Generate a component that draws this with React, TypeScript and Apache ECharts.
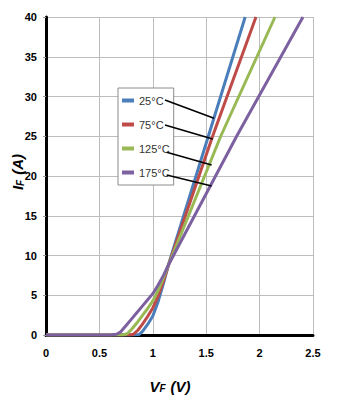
import React, { useEffect, useRef } from "react";
import * as echarts from "echarts";

const seriesNames = ["25°C", "75°C", "125°C", "175°C"];
const colors = ["#4A7EBB", "#BE4B48", "#98B954", "#7D60A0"];

const curve25: [number, number][] = [
  [0, 0], [0.8, 0], [0.87, 0.05], [0.9, 0.4], [0.95, 1.3], [1.0, 2.4], [1.05, 4.2],
  [1.1, 6.5], [1.15, 9.0], [1.52, 25], [1.865, 40],
];
const curve75: [number, number][] = [
  [0, 0], [0.78, 0], [0.82, 0.1], [0.86, 0.6], [0.9, 1.3], [0.95, 2.3], [1.0, 3.4],
  [1.05, 4.9], [1.1, 6.8], [1.15, 8.9], [1.56, 25], [1.966, 40],
];
const curve125: [number, number][] = [
  [0, 0], [0.72, 0], [0.76, 0.15], [0.8, 0.7], [0.85, 1.5], [0.9, 2.4], [0.95, 3.3],
  [1.0, 4.3], [1.05, 5.6], [1.1, 7.2], [1.15, 8.9], [1.636, 25], [2.144, 40],
];
const curve175: [number, number][] = [
  [0, 0], [0.6, 0], [0.66, 0.1], [0.7, 0.4], [0.75, 1.2], [0.8, 2.0], [0.85, 2.8],
  [0.9, 3.6], [0.95, 4.4], [1.0, 5.2], [1.05, 6.3], [1.1, 7.5], [1.15, 8.9],
  [1.785, 25], [2.406, 40],
];
const curves = [curve25, curve75, curve125, curve175];

// leader lines from legend labels to curves (data coordinates)
const leaders: [number, number, number, number][] = [
  [1.114, 29.56, 1.573, 27.26],
  [1.114, 26.42, 1.561, 24.65],
  [1.13, 22.99, 1.551, 21.38],
  [1.13, 20.13, 1.551, 18.74],
];

const xTicks = { min: 0, max: 2.5, interval: 0.5 };
const yTicks = { min: 0, max: 40, interval: 5 };

const FONT = "'Liberation Sans Narrow', 'Liberation Sans', Arial, sans-serif";

export default function App() {
  const ref = useRef<HTMLDivElement>(null);
  useEffect(() => {
    document.body.style.margin = "0";
    const chart = echarts.init(ref.current!, null, { renderer: "svg" });
    chart.setOption({
      animation: false,
      backgroundColor: "#ffffff",
      grid: { left: 46, right: 39, top: 17, bottom: 76 },
      xAxis: {
        type: "value",
        ...xTicks,
        axisLine: { show: true, onZero: false, lineStyle: { color: "#000", width: 3 } },
        axisTick: { show: false },
        splitLine: { show: true, lineStyle: { color: "#BDBDBD", width: 1 } },
        axisLabel: {
          margin: 12,
          fontFamily: FONT,
          fontWeight: "bold",
          fontSize: 11,
          color: "#000",
          formatter: (v: number) => String(v),
        },
      },
      yAxis: {
        type: "value",
        ...yTicks,
        axisLine: { show: true, onZero: false, lineStyle: { color: "#000", width: 3 } },
        axisTick: { show: true, length: 3, lineStyle: { color: "#999" } },
        splitLine: { show: true, lineStyle: { color: "#BDBDBD", width: 1 } },
        axisLabel: {
          margin: 9,
          fontFamily: FONT,
          fontWeight: "bold",
          fontSize: 11,
          color: "#000",
        },
      },
      legend: {
        orient: "vertical",
        left: 118,
        top: 88,
        data: seriesNames,
        icon: "rect",
        itemWidth: 12,
        itemHeight: 4,
        itemGap: 13,
        padding: [7, 4, 7, 4],
        backgroundColor: "#ffffff",
        borderColor: "#8C8C8C",
        borderWidth: 1,
        textStyle: { fontFamily: FONT, fontSize: 11, color: "#333" },
      },
      graphic: [
        {
          type: "text",
          x: 17,
          y: 172,
          rotation: Math.PI / 2,
          style: {
            text: "{i|I}{s|F}{i|(A)}",
            align: "center",
            verticalAlign: "middle",
            rich: {
              i: { fontFamily: FONT, fontSize: 15, fontStyle: "italic", fontWeight: "bold", fill: "#000" },
              s: { fontFamily: FONT, fontSize: 10, fontStyle: "italic", fontWeight: "bold", fill: "#000", padding: [6, 5, 0, 0] },
            },
          },
        },
        {
          type: "text",
          x: 170,
          y: 386,
          style: {
            text: "{i|V}{s|F}{i|(V)}",
            align: "center",
            verticalAlign: "middle",
            rich: {
              i: { fontFamily: FONT, fontSize: 15, fontStyle: "italic", fontWeight: "bold", fill: "#000" },
              s: { fontFamily: FONT, fontSize: 10, fontStyle: "italic", fontWeight: "bold", fill: "#000", padding: [5, 5, 0, 0] },
            },
          },
        },
      ],
      series: curves.map((data, i) => ({
        name: seriesNames[i],
        type: "line",
        data,
        showSymbol: false,
        smooth: false,
        clip: true,
        lineStyle: { color: colors[i], width: 3 },
        itemStyle: { color: colors[i] },
        markLine: {
          silent: true,
          symbol: "none",
          animation: false,
          label: { show: false },
          lineStyle: { color: "#000", width: 1.5, type: "solid" },
          data: [
            [
              { coord: [leaders[i][0], leaders[i][1]] },
              { coord: [leaders[i][2], leaders[i][3]] },
            ],
          ],
        },
      })),
    });
    return () => chart.dispose();
  }, []);
  return <div ref={ref} style={{ width: 352, height: 411 }} />;
}
